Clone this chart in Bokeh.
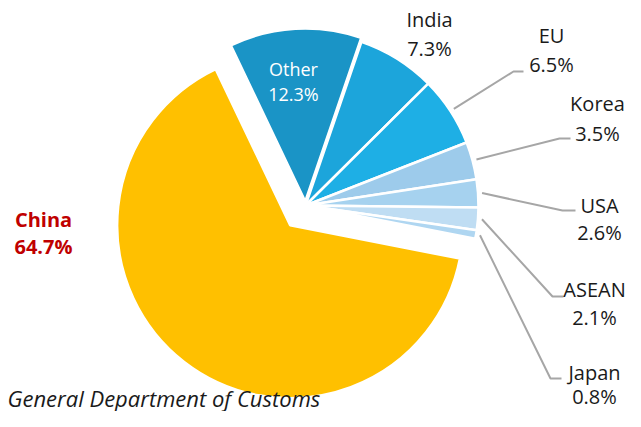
import math
from bokeh.plotting import figure
from bokeh.models import Range1d, ColumnDataSource
from bokeh.core.properties import value
from bokeh.embed import file_html
from bokeh.resources import INLINE

# ---- data ----
names = ["Other", "India", "EU", "Korea", "USA", "ASEAN", "Japan", "China"]
shares = [12.3, 7.3, 6.5, 3.5, 2.6, 2.1, 0.8, 64.7]
source_note = "General Department of Customs"

# ---- styles / layout ----
colors = ["#1A94C6", "#1CA5DB", "#1EAFE5", "#9DCBEB", "#A6D2EF", "#BFDDF3", "#AFD6F1", "#FFC000"]
explode = [4, 0, 0, 0, 0, 0, 0, 25]
FW, FH = 625, 411
CX, CY, R = 305, 205, 173        # pie centre / radius (picture px, y down)
START = -25.5                     # clockwise degrees from 12 o'clock
TDY = 7                           # baseline correction for text rendering

def fy(y):
    return FH - y

def ty(b):
    return FH - (b - TDY)

p = figure(width=FW, height=FH, x_range=Range1d(0, FW), y_range=Range1d(0, FH),
           output_backend="svg", toolbar_location=None, min_border=0)
p.axis.visible = False
p.grid.visible = False
p.outline_line_color = None
p.background_fill_color = "white"
p.border_fill_color = "white"

total = sum(shares)
xs, ys, sa, ea, mids = [], [], [], [], []
cum = START
for s, ex in zip(shares, explode):
    span = 360.0 * s / total
    t0, t1 = cum, cum + span
    mid = (t0 + t1) / 2
    mids.append(mid)
    rad = math.radians(mid)
    px = CX + ex * math.sin(rad)
    py = CY - ex * math.cos(rad)
    xs.append(px)
    ys.append(fy(py))
    sa.append(math.radians(90 - t1))
    ea.append(math.radians(90 - t0))
    cum = t1

src = ColumnDataSource(dict(x=xs, y=ys, sa=sa, ea=ea, color=colors))
p.wedge(x="x", y="y", radius=R, start_angle="sa", end_angle="ea",
        fill_color="color", line_color="white", line_width=2.5, source=src)

# ---- leader lines ----
elbows = {"EU": (513, 71, 523), "Korea": (559, 138, 570), "USA": (562, 210, 575),
          "ASEAN": (552, 296, 563), "Japan": (550, 378, 561)}
for i, n in enumerate(names):
    if n in elbows:
        ex_, ey_, hx = elbows[n]
        rad = math.radians(mids[i])
        sx = CX + (R + 4) * math.sin(rad)
        sy = CY - (R + 4) * math.cos(rad)
        p.line([sx, ex_, hx], [fy(sy), fy(ey_), fy(ey_)], line_color="#A6A6A6", line_width=2)

# ---- labels ----
label_pos = {"Other": (293, 75, 100), "India": (429, 26, 55), "EU": (551, 42, 71),
             "Korea": (597, 110, 140), "USA": (599, 212, 239), "ASEAN": (594, 296, 324),
             "Japan": (594, 379, 403), "China": (43, 226, 253)}
for n, s in zip(names, shares):
    x, b1, b2 = label_pos[n]
    if n == "Other":
        col, size, style = "white", "18px", "normal"
    elif n == "China":
        col, size, style = "#C00000", "20px", "bold"
    else:
        col, size, style = "#1A1A1A", "20px", "normal"
    p.text(x=[x, x], y=[ty(b1), ty(b2)], text=[n, f"{s}%"],
           text_font=value("Open Sans"), text_font_size=size, text_font_style=style,
           text_color=col, text_align="center", text_baseline="alphabetic")

p.text(x=[7], y=[ty(404)], text=[source_note], text_font=value("Open Sans"),
       text_font_size="22px", text_font_style="italic", text_color="#1A1A1A",
       text_align="left", text_baseline="alphabetic")

open("out.html", "w").write(file_html(p, INLINE))
